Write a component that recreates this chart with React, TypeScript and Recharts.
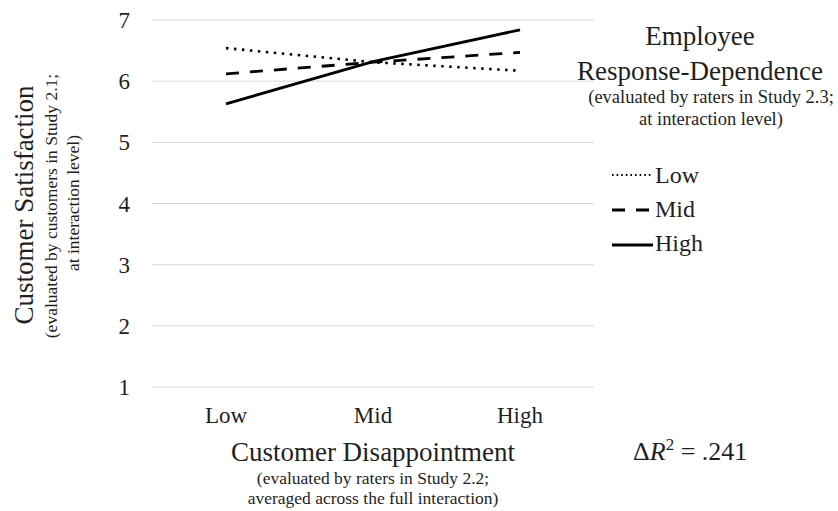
import { LineChart, Line, XAxis, YAxis, CartesianGrid, Legend } from 'recharts';

const categories = ['Low', 'Mid', 'High'];
const lowResponse = [6.54, 6.31, 6.17];
const midResponse = [6.12, 6.31, 6.47];
const highResponse = [5.63, 6.32, 6.84];
const yTicks = [1, 2, 3, 4, 5, 6, 7];

const seriesNames = ['Low', 'Mid', 'High'];

const FONT = '"Liberation Serif", "Times New Roman", serif';
const INK = '#1f1f1f';

const lineStyles: Record<string, { dash?: string; width: number; legendDash?: string; legendWidth: number }> = {
  Low: { dash: '2.5 5.5', width: 2.6, legendDash: '1.6 3', legendWidth: 1.8 },
  Mid: { dash: '13 11', width: 2.8, legendDash: '13 11', legendWidth: 2.8 },
  High: { width: 2.8, legendWidth: 2.8 },
};

const chartData = categories.map((c, i) => ({
  cat: c,
  Low: lowResponse[i],
  Mid: midResponse[i],
  High: highResponse[i],
}));

const YTitle = () => (
  <g fontFamily={FONT} fill={INK} textAnchor="middle">
    <text transform="translate(33,205) rotate(-90)" fontSize={27}>
      Customer Satisfaction
    </text>
    <text transform="translate(57,206) rotate(-90)" fontSize={17.5}>
      (evaluated by customers in Study 2.1;
    </text>
    <text transform="translate(79,203) rotate(-90)" fontSize={17.5}>
      at interaction level)
    </text>
  </g>
);

const XTitle = () => (
  <g fontFamily={FONT} fill={INK}>
    <text x={373} y={461} fontSize={27} textAnchor="middle">
      Customer Disappointment
    </text>
    <text x={373} y={484} fontSize={17.5} textAnchor="middle">
      (evaluated by raters in Study 2.2;
    </text>
    <text x={373} y={504} fontSize={17.5} textAnchor="middle">
      averaged across the full interaction)
    </text>
    <text x={633} y={460} fontSize={26}>
      Δ<tspan fontStyle="italic">R</tspan>
      <tspan fontSize={17} dy={-10}>2</tspan>
      <tspan dy={10}> = .241</tspan>
    </text>
  </g>
);

const LEG_X = 594;
const LEG_Y = 0;

const LegendBox = () => {
  const rows = [183, 217, 251];
  const lineY = [175, 210, 245];
  return (
    <svg width={244} height={270} style={{ overflow: 'visible', display: 'block' }}>
      <g fontFamily={FONT} fill={INK} textAnchor="middle">
        <text x={700 - LEG_X} y={45 - LEG_Y} fontSize={27}>Employee</text>
        <text x={700 - LEG_X} y={80 - LEG_Y} fontSize={27}>Response-Dependence</text>
        <text x={711 - LEG_X} y={103 - LEG_Y} fontSize={18.5}>(evaluated by raters in Study 2.3;</text>
        <text x={711 - LEG_X} y={125 - LEG_Y} fontSize={18.5}>at interaction level)</text>
      </g>
      {seriesNames.map((name, i) => {
        const st = lineStyles[name];
        return (
          <g key={name}>
            <line
              x1={612 - LEG_X}
              x2={653 - LEG_X}
              y1={lineY[i] - LEG_Y}
              y2={lineY[i] - LEG_Y}
              stroke="#000"
              strokeWidth={st.legendWidth}
              strokeDasharray={st.legendDash}
            />
            <text x={655 - LEG_X} y={rows[i] - LEG_Y} fontFamily={FONT} fontSize={24} fill={INK}>
              {name}
            </text>
          </g>
        );
      })}
    </svg>
  );
};

const App = () => {
  return (
    <div style={{ position: 'absolute', left: 0, top: 0, background: '#fff' }}>
      <LineChart
        width={838}
        height={511}
        data={chartData}
        margin={{ top: 20, right: 0, left: 92, bottom: 84 }}
      >
        <CartesianGrid vertical={false} stroke="#d9d9d9" strokeWidth={1} />
        <XAxis
          dataKey="cat"
          axisLine={false}
          tickLine={false}
          height={40}
          padding={{ left: 74, right: 74 }}
          tickMargin={14}
          tick={{ fontFamily: FONT, fontSize: 23, fill: INK }}
          interval={0}
          label={<XTitle />}
        />
        <YAxis
          width={60}
          domain={[1, 7]}
          ticks={yTicks}
          axisLine={false}
          tickLine={false}
          tickMargin={16}
          tick={{ fontFamily: FONT, fontSize: 23, fill: INK }}
          label={<YTitle />}
        />
        <Legend
          layout="vertical"
          align="right"
          verticalAlign="top"
          content={<LegendBox />}
          wrapperStyle={{ left: LEG_X, top: LEG_Y, width: 244, height: 270 }}
        />
        {seriesNames.map((name) => (
          <Line
            key={name}
            type="linear"
            dataKey={name}
            stroke="#000"
            strokeWidth={lineStyles[name].width}
            strokeDasharray={lineStyles[name].dash}
            dot={false}
            activeDot={false}
            isAnimationActive={false}
          />
        ))}
      </LineChart>
    </div>
  );
};

export default App;
